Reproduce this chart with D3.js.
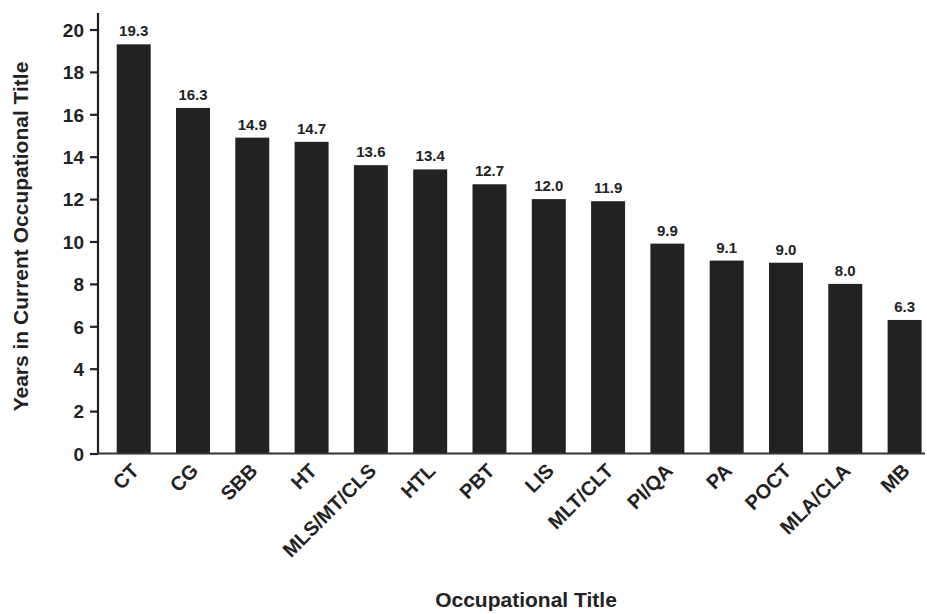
<!DOCTYPE html>
<html><head><meta charset="utf-8">
<script src="https://cdn.jsdelivr.net/npm/d3@7"></script>
<style>body{margin:0;background:#fff}svg{display:block}text{font-family:"Liberation Sans",Arial,Helvetica,sans-serif;font-weight:bold;fill:#222}</style>
</head><body><svg id="c" width="927" height="614"></svg>
<script>
const categories = ["CT","CG","SBB","HT","MLS/MT/CLS","HTL","PBT","LIS","MLT/CLT","PI/QA","PA","POCT","MLA/CLA","MB"];
const values = [19.3,16.3,14.9,14.7,13.6,13.4,12.7,12.0,11.9,9.9,9.1,9.0,8.0,6.3];
const yTicks = [0,2,4,6,8,10,12,14,16,18,20];
const yTitle = "Years in Current Occupational Title";
const xTitle = "Occupational Title";

const svg = d3.select("#c");
const axisX0 = 98, axisX1 = 925, y0px = 453.5, y20px = 29.5;
const y = d3.scaleLinear().domain([0,20]).range([y0px,y20px]);
const step = 59.3;
const r0 = 116.7 - 0.2135*step;
const x = d3.scaleBand().domain(categories).range([r0, r0 + categories.length*step]).paddingInner(0.427).paddingOuter(0.2135);

// bars
svg.append("g").selectAll("rect").data(values).join("rect")
  .attr("x",(d,i)=>x(categories[i])).attr("width",x.bandwidth())
  .attr("y",d=>y(d)).attr("height",d=>y(0)-y(d)).attr("fill","#222224");

// value labels
svg.append("g").selectAll("text").data(values).join("text")
  .attr("x",(d,i)=>x(categories[i])+x.bandwidth()/2).attr("y",d=>y(d)-8)
  .attr("text-anchor","middle").attr("font-size",15).text(d=>d.toFixed(1));

// y axis
const ya = svg.append("g").attr("transform",`translate(${axisX0},0)`)
  .call(d3.axisLeft(y).tickValues(yTicks).tickSize(8).tickPadding(6).tickFormat(d3.format("d")));
ya.select(".domain").remove();
ya.selectAll(".tick line").attr("stroke","#222").attr("stroke-width",2.2);
ya.selectAll(".tick text").attr("font-size",19).attr("fill","#222").attr("dy","0.36em")
  .style("font-family","'Liberation Sans',Arial,sans-serif");
svg.append("line").attr("x1",axisX0).attr("x2",axisX0).attr("y1",13).attr("y2",y0px+1)
  .attr("stroke","#222").attr("stroke-width",2.2);

// x axis
svg.append("line").attr("x1",axisX0-1).attr("x2",axisX1).attr("y1",y0px).attr("y2",y0px)
  .attr("stroke","#333").attr("stroke-width",2.2);
svg.append("g").selectAll("text").data(categories).join("text")
  .attr("transform",d=>`translate(${x(d)+x.bandwidth()/2+6.5},${y0px+18.5}) rotate(-45)`)
  .attr("text-anchor","end").attr("font-size",20).text(d=>d);

// titles
svg.append("text").attr("transform",`translate(28,236.5) rotate(-90)`).attr("text-anchor","middle")
  .attr("font-size",21).text(yTitle);
svg.append("text").attr("x",526).attr("y",607).attr("text-anchor","middle").attr("font-size",21).text(xTitle);
</script></body></html>
